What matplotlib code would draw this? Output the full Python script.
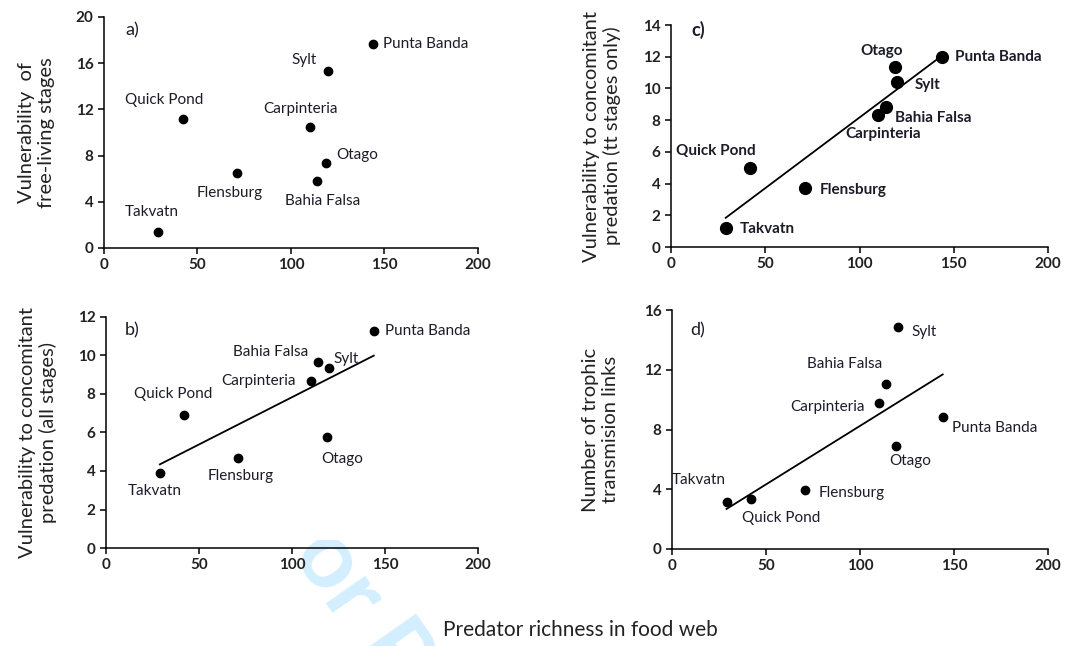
import numpy as np
import matplotlib.pyplot as plt
from matplotlib.patches import Rectangle

plt.rcParams['font.family'] = ['Lato', 'DejaVu Sans']

sites = ['Takvatn', 'Quick Pond', 'Flensburg', 'Carpinteria',
         'Bahia Falsa', 'Otago', 'Sylt', 'Punta Banda']
richness = [29, 42, 71, 110, 114, 119, 120, 144]

free_living = [1.4, 11.2, 6.5, 10.5, 5.8, 7.4, 15.3, 17.7]
concomitant_all = [3.9, 6.9, 4.65, 8.7, 9.65, 5.75, 9.35, 11.25]
concomitant_tt = [1.2, 5.0, 3.75, 8.3, 8.8, 11.35, 10.4, 12.0]
trophic_links = [3.15, 3.35, 3.95, 9.8, 11.05, 6.9, 14.9, 8.85]

# label placement (pixel offsets from the point, ha)
offs_a = {'Takvatn': (-6, 20, 'center'), 'Quick Pond': (-18, 19, 'center'),
          'Flensburg': (-7, -20, 'center'), 'Carpinteria': (-9, 18, 'center'),
          'Bahia Falsa': (6, -20, 'center'), 'Otago': (10, 8, 'left'),
          'Sylt': (-12, 11, 'right'), 'Punta Banda': (10, 0, 'left')}
offs_b = {'Takvatn': (-5, -18, 'center'), 'Quick Pond': (-11, 21, 'center'),
          'Flensburg': (3, -18, 'center'), 'Carpinteria': (-15, 0, 'right'),
          'Bahia Falsa': (-10, 10, 'right'), 'Otago': (15, -22, 'center'),
          'Sylt': (4, 9, 'left'), 'Punta Banda': (11, 0, 'left')}
offs_c = {'Takvatn': (14, -1, 'left'), 'Quick Pond': (-34, 17, 'center'),
          'Flensburg': (15, -2, 'left'), 'Carpinteria': (5, -19, 'center'),
          'Bahia Falsa': (9, -11, 'left'), 'Otago': (-14, 16, 'center'),
          'Sylt': (17, -3, 'left'), 'Punta Banda': (13, 0, 'left')}
offs_d = {'Takvatn': (-28, 22, 'center'), 'Quick Pond': (30, -19, 'center'),
          'Flensburg': (13, -3, 'left'), 'Carpinteria': (-14, -4, 'right'),
          'Bahia Falsa': (-42, 20, 'center'), 'Otago': (14, -15, 'center'),
          'Sylt': (14, -5, 'left'), 'Punta Banda': (9, -11, 'left')}

txt_col = '#1c1c28'


def panel(ax, y, yticks, ylabel, letter, letter_pos, offs, fit=True,
          msize=6, bold=False, lab_x=-0.13):
    ax.scatter(richness, y, s=msize ** 2, color='black', zorder=3)
    if fit:
        k, b = np.polyfit(richness, y, 1)
        xx = np.array([min(richness), max(richness)])
        ax.plot(xx, k * xx + b, color='black', lw=1.3, zorder=2)
    for name, xv, yv in zip(sites, richness, y):
        dx, dy, ha = offs[name]
        ax.annotate(name, (xv, yv), xytext=(dx, dy), textcoords='offset pixels',
                    ha=ha, va='center', fontsize=11, color=txt_col,
                    fontweight='bold' if bold else 'normal')
    ax.set_xlim(0, 200)
    ax.set_ylim(yticks[0], yticks[-1])
    ax.set_xticks([0, 50, 100, 150, 200])
    ax.set_yticks(yticks)
    for s in ['top', 'right']:
        ax.spines[s].set_visible(False)
    for s in ['left', 'bottom']:
        ax.spines[s].set_linewidth(1.1)
    ax.tick_params(direction='out', length=4, width=1.1, labelsize=11)
    for t in ax.get_xticklabels() + ax.get_yticklabels():
        t.set_fontweight('bold')
        t.set_color('#222222')
    ax.set_ylabel(ylabel, fontsize=14.5, linespacing=1.2, color='#222222')
    ax.yaxis.set_label_coords(lab_x, 0.5)
    ax.text(letter_pos[0], letter_pos[1], letter, transform=ax.transAxes,
            fontsize=13, ha='left', va='center', color=txt_col,
            fontweight='bold' if bold else 'normal')
    ax.set_facecolor('none')


fig = plt.figure(figsize=(10.86, 6.46), dpi=100)

# faint watermark of the page, hidden behind the (white) chart image
fig.text(0.2394, 0.2105, 'For Peer Review', fontsize=68, color='#d3efff',
         rotation=-55, rotation_mode='anchor', ha='left', va='baseline',
         zorder=-5, fontweight='bold')
fig.patches.append(Rectangle((0, 0.164), 1, 0.836, transform=fig.transFigure,
                             facecolor='white', edgecolor='none', zorder=-4))

ax_a = fig.add_axes([0.0958, 0.6161, 0.3442, 0.3576])
ax_b = fig.add_axes([0.0976, 0.1517, 0.3424, 0.3576])
ax_c = fig.add_axes([0.6179, 0.6176, 0.3471, 0.3437])
ax_d = fig.add_axes([0.6188, 0.1502, 0.3462, 0.3698])

panel(ax_a, free_living, [0, 4, 8, 12, 16, 20],
      'Vulnerability  of\nfree-living stages', 'a)', (0.056, 0.944),
      offs_a, fit=False, lab_x=-0.131)
panel(ax_b, concomitant_all, [0, 2, 4, 6, 8, 10, 12],
      'Vulnerability to concomitant\npredation (all stages)', 'b)',
      (0.051, 0.944), offs_b, lab_x=-0.132)
panel(ax_c, concomitant_tt, [0, 2, 4, 6, 8, 10, 12, 14],
      'Vulnerability to concomitant\npredation (tt stages only)', 'c)',
      (0.053, 0.977), offs_c, msize=8.5, bold=True, lab_x=-0.133)
panel(ax_d, trophic_links, [0, 4, 8, 12, 16],
      'Number of trophic\ntransmision links', 'd)', (0.048, 0.916),
      offs_d, lab_x=-0.141)

fig.text(0.534, 0.025, 'Predator richness in food web', fontsize=15,
         ha='center', va='center', color='#222222')

fig.savefig('out.png', dpi=100)
